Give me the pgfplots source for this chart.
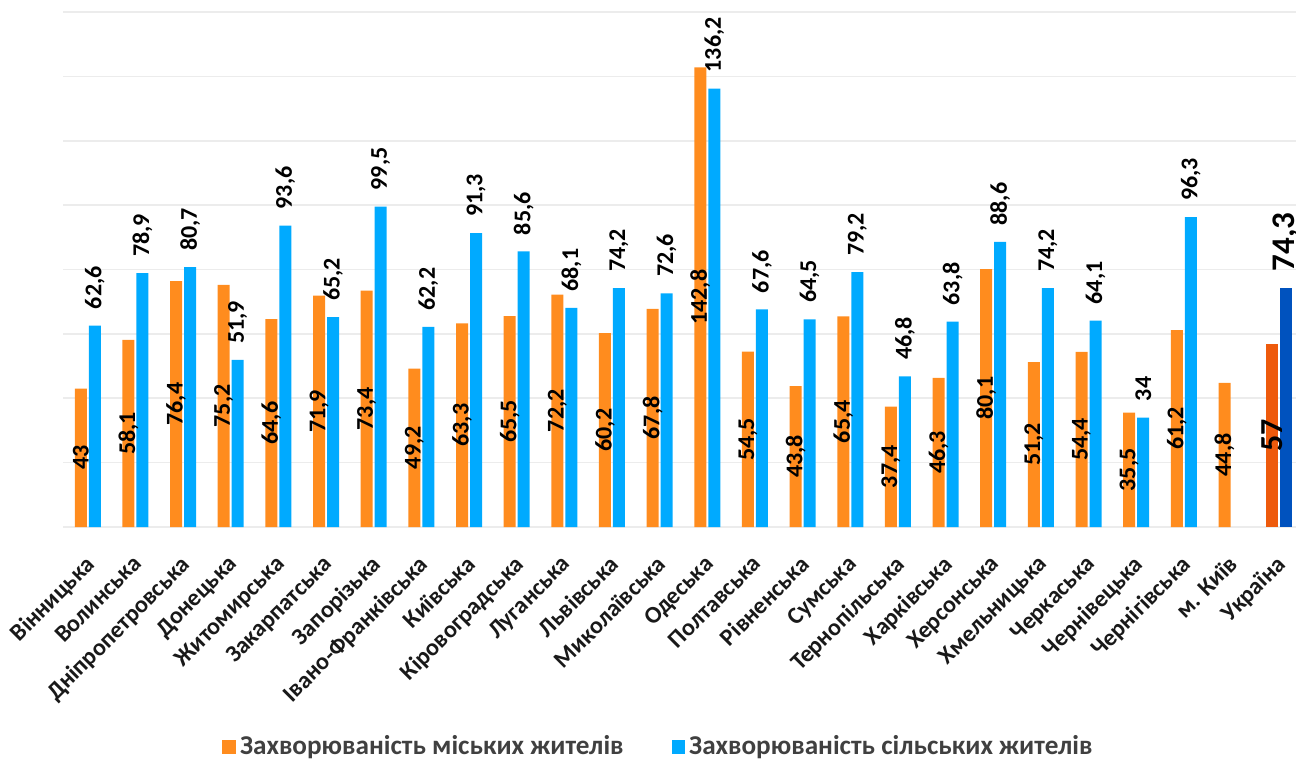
\documentclass[border=0pt]{standalone}
\usepackage{pgfplots}
\pgfplotsset{compat=1.18}
\usepackage{fontspec}
\setmainfont{Carlito}
\definecolor{urb}{HTML}{FF8C1E}
\definecolor{rur}{HTML}{00AAFF}
\definecolor{uaurb}{HTML}{EE5A0C}
\definecolor{uarur}{HTML}{0052BE}
\definecolor{gridc}{HTML}{ECECEC}
\definecolor{legt}{HTML}{404040}
\begin{document}
\begin{tikzpicture}
\begin{axis}[
  scale only axis, width=620pt, height=257.5pt,
  xmin=-0.52, xmax=25.5, ymin=0, ymax=160,
  ybar=1pt, bar width=6pt,
  ytick={0,20,...,160}, yticklabels={}, ymajorgrids,
  grid style={gridc, line width=0.8pt},
  axis line style={draw=none}, major tick length=0pt,
  xtick={0,...,25},
  xticklabels={Вінницька,Волинська,Дніпропетровська,Донецька,Житомирська,Закарпатська,Запорізька,Івано-Франківська,Київська,Кіровоградська,Луганська,Львівська,Миколаївська,Одеська,Полтавська,Рівненська,Сумська,Тернопільська,Харківська,Херсонська,Хмельницька,Черкаська,Чернівецька,Чернігівська,м. Київ,Україна},
  xticklabel style={yshift=-12pt, xshift=-2pt, rotate=45, anchor=north east, font=\bfseries\fontsize{12}{13}\selectfont, text=black!90, inner sep=1pt},
  /pgf/number format/assume math mode=true,
  /pgf/number format/use comma,
  /pgf/number format/1000 sep={},
  clip=false,
  legend style={at={(0.481,-0.427)}, anchor=center, draw=none, fill=none, legend columns=2,
    font=\bfseries\fontsize{13.6}{14}\selectfont, text=legt,
    /tikz/every even column/.append style={column sep=22pt}},
  legend image code/.code={\fill[#1] (0pt,-3.4pt) rectangle (6.8pt,3.4pt);},
]
% urban
\addplot[fill=urb, draw=none, bar shift=-3.5pt,
  nodes near coords, visualization depends on={y \as \rawy},
  every node near coord/.append style={font=\bfseries\fontsize{12}{12}\selectfont, text=black, anchor=center, yshift={-0.8047pt*\rawy}, rotate=90, inner sep=0pt}]
  coordinates {(0,43) (1,58.1) (2,76.4) (3,75.2) (4,64.6) (5,71.9) (6,73.4) (7,49.2) (8,63.3) (9,65.5) (10,72.2) (11,60.2) (12,67.8) (13,142.8) (14,54.5) (15,43.8) (16,65.4) (17,37.4) (18,46.3) (19,80.1) (20,51.2) (21,54.4) (22,35.5) (23,61.2) (24,44.8)};
\addlegendentry{Захворюваність міських жителів}
% rural
\addplot[fill=rur, draw=none, bar shift=3.5pt,
  nodes near coords,
  every node near coord/.append style={font=\bfseries\fontsize{12}{12}\selectfont, text=black, anchor=west, yshift=8pt, rotate=90, inner sep=0pt}]
  coordinates {(0,62.6) (1,78.9) (2,80.7) (3,51.9) (4,93.6) (5,65.2) (6,99.5) (7,62.2) (8,91.3) (9,85.6) (10,68.1) (11,74.2) (12,72.6) (13,136.2) (14,67.6) (15,64.5) (16,79.2) (17,46.8) (18,63.8) (19,88.6) (20,74.2) (21,64.1) (22,34) (23,96.3)};
\addlegendentry{Захворюваність сільських жителів}
% Ukraine
\addplot[fill=uaurb, draw=none, bar shift=-3.5pt, forget plot,
  nodes near coords, visualization depends on={y \as \rawy},
  every node near coord/.append style={font=\bfseries\fontsize{16}{16}\selectfont, text=black, anchor=center, yshift={-0.8047pt*\rawy}, rotate=90, inner sep=0pt}]
  coordinates {(25,57)};
\addplot[fill=uarur, draw=none, bar shift=3.5pt, forget plot,
  nodes near coords,
  every node near coord/.append style={font=\bfseries\fontsize{16.5}{16.5}\selectfont, text=black, anchor=west, yshift=8pt, rotate=90, inner sep=0pt}]
  coordinates {(25,74.3)};
\end{axis}
\pgfresetboundingbox
\path[use as bounding box] (-31.5pt,-116.5pt) rectangle (616.5pt,263.5pt);
\end{tikzpicture}
\end{document}
